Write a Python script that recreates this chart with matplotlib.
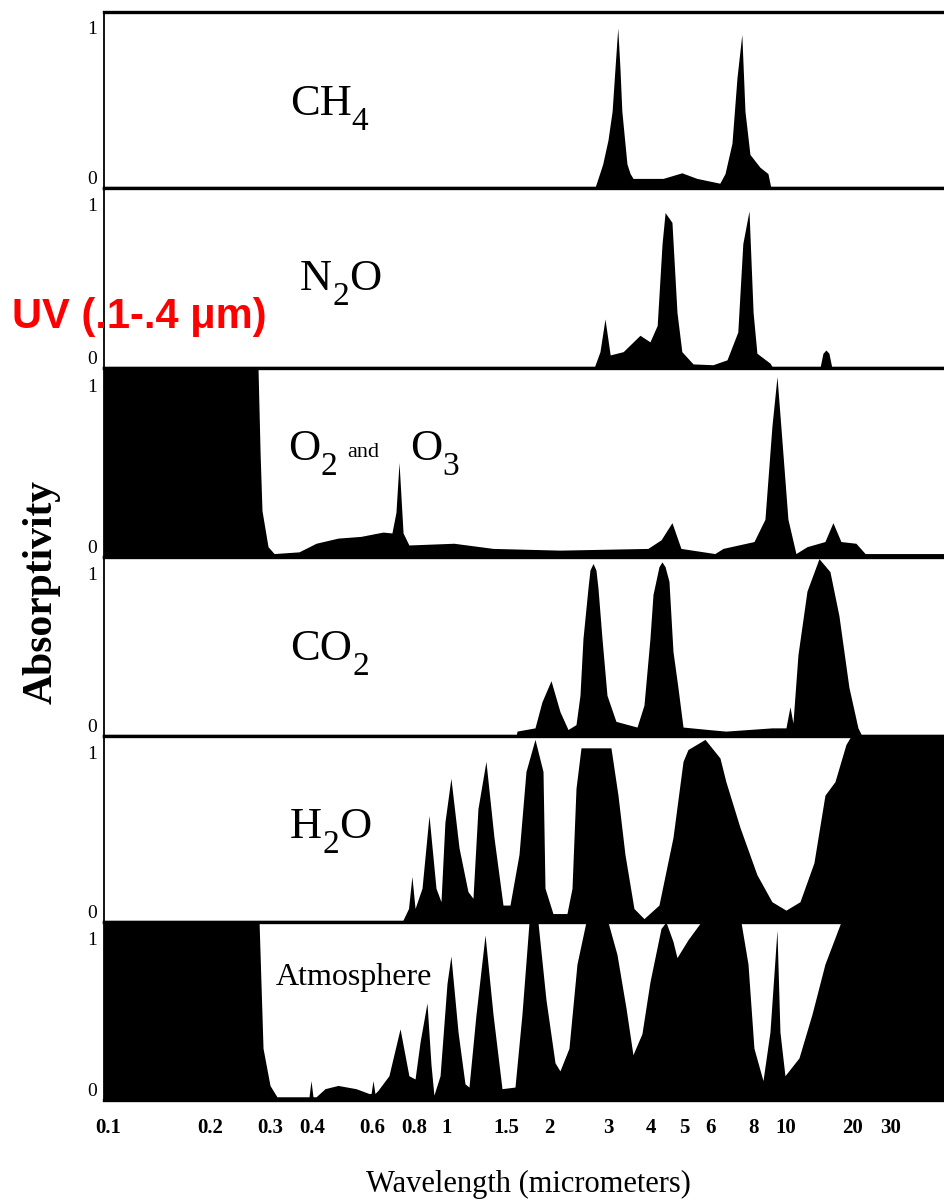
import numpy as np
import matplotlib
matplotlib.use("Agg")
import matplotlib.pyplot as plt

# 1. Fuentes (serif tipo Times para todo el grafico)
plt.rcParams['font.family'] = ['Liberation Serif', 'DejaVu Serif']

# 2. Datos: longitud de onda (micrometros) y absortividad de cada panel
#    (1.1 = banda negra que llena todo el panel)
ch4_wl = [2.73, 2.83, 2.88, 2.985, 3.07, 3.131, 3.19, 3.238, 3.28, 3.396, 3.47, 3.54,
          4.34, 4.93, 5.46, 6.38, 6.61, 6.93, 7.17, 7.41, 7.57, 7.83, 8.38, 8.85, 9.03]
ch4_val = [0, 0.10, 0.15, 0.30, 0.48, 0.75, 1.0, 0.75, 0.48, 0.15, 0.09, 0.06,
           0.06, 0.095, 0.06, 0.03, 0.09, 0.28, 0.69, 0.96, 0.48, 0.21, 0.13, 0.09, 0]

n2o_wl = [2.715, 2.827, 2.925, 3.03, 3.31, 3.71, 3.97, 4.17, 4.31, 4.40, 4.61, 4.77, 4.93,
          5.32, 6.09, 6.70, 7.21, 7.46, 7.78, 8.00, 8.21, 8.97, 9.16,
          14.27, 14.73, 15.2, 15.68, 16.18]
n2o_val = [0, 0.10, 0.30, 0.08, 0.10, 0.20, 0.16, 0.26, 0.76, 0.95, 0.89, 0.34, 0.10,
           0.025, 0.02, 0.05, 0.22, 0.76, 0.96, 0.34, 0.09, 0.03, 0,
           0, 0.09, 0.11, 0.09, 0]

o2o3_wl = [0.097, 0.277, 0.281, 0.2846, 0.2965, 0.309, 0.366, 0.411, 0.477, 0.557, 0.647,
           0.688, 0.707, 0.722, 0.742, 0.772, 1.048, 1.367, 2.154, 3.916, 4.28, 4.61,
           4.90, 6.17, 6.52, 8.05, 8.67, 9.09, 9.41, 9.66, 10.21, 11.1, 12.46, 15.04,
           16.35, 17.78, 20.8, 22.9, 53]
o2o3_val = [1.1, 1.1, 0.6, 0.27, 0.06, 0.02, 0.03, 0.08, 0.11, 0.12, 0.145,
            0.14, 0.26, 0.55, 0.14, 0.07, 0.08, 0.05, 0.04, 0.05, 0.10, 0.20,
            0.05, 0.02, 0.05, 0.09, 0.22, 0.76, 1.05, 0.76, 0.22, 0.02, 0.06, 0.09,
            0.20, 0.09, 0.08, 0.02, 0.02]

co2_wl = [1.60, 1.609, 1.818, 1.906, 2.027, 2.154, 2.275, 2.402, 2.468, 2.519, 2.606,
          2.641, 2.697, 2.751, 2.789, 2.866, 2.965, 3.151, 3.636, 3.812, 3.97, 4.053,
          4.22, 4.307, 4.40, 4.518, 4.642, 4.80, 4.97, 5.89, 6.65, 9.09, 10.0, 10.43,
          10.76, 11.34, 12.46, 14.13, 15.85, 17.41, 19.33, 21.25, 22.15]
co2_val = [0, 0.03, 0.05, 0.21, 0.34, 0.15, 0.04, 0.07, 0.25, 0.60, 0.91,
           1.02, 1.06, 1.02, 0.91, 0.60, 0.25, 0.09, 0.055, 0.19, 0.60, 0.87,
           1.04, 1.07, 1.04, 0.95, 0.52, 0.30, 0.055, 0.04, 0.03, 0.05, 0.05, 0.18,
           0.08, 0.50, 0.89, 1.09, 1.01, 0.74, 0.30, 0.05, 0]

h2o_wl = [0.737, 0.770, 0.788, 0.805, 0.844, 0.885, 0.928, 0.960, 0.986, 1.027, 1.085,
          1.153, 1.193, 1.234, 1.303, 1.376, 1.463, 1.534, 1.631, 1.710, 1.818, 1.920,
          1.946, 2.054, 2.259, 2.338, 2.402, 2.485, 3.046, 3.195, 3.35, 3.561, 3.812,
          4.22, 4.642, 4.97, 5.139, 5.77, 6.387, 6.65, 7.316, 8.21, 9.09, 10.0, 11.58,
          13.40, 15.04, 16.70, 18.74, 19.75, 53]
h2o_val = [0, 0.08, 0.27, 0.08, 0.20, 0.63, 0.20, 0.12, 0.59, 0.85, 0.44,
           0.18, 0.14, 0.67, 0.95, 0.50, 0.10, 0.10, 0.40, 0.89, 1.08, 0.89,
           0.20, 0.05, 0.05, 0.20, 0.79, 1.03, 1.03, 0.75, 0.40, 0.08, 0.02,
           0.10, 0.50, 0.95, 1.02, 1.08, 0.97, 0.83, 0.56, 0.28, 0.12, 0.07, 0.12,
           0.35, 0.75, 0.83, 1.05, 1.1, 1.1]

atm_wl = [0.097, 0.279, 0.2866, 0.3005, 0.315, 0.3917, 0.397, 0.4024, 0.411, 0.4366, 0.477,
          0.539, 0.589, 0.597, 0.605, 0.613, 0.626, 0.674, 0.727, 0.772, 0.805, 0.833,
          0.873, 0.897, 0.915, 0.954, 1.0, 1.027, 1.078, 1.130, 1.161, 1.218, 1.295,
          1.367, 1.453, 1.587, 1.664, 1.746, 1.855, 1.959, 2.083, 2.154, 2.29, 2.418,
          2.570, 2.985, 3.173, 3.373, 3.537, 3.760, 3.970, 4.279, 4.426, 4.642, 4.770,
          5.139, 5.614, 7.367, 7.728, 8.046, 8.556, 8.970, 9.408, 9.601, 9.933, 11.46,
          13.13, 15.04, 17.78, 53]
atm_val = [1.1, 1.1, 0.32, 0.09, 0.02, 0.02, 0.12, 0.02, 0.02, 0.07, 0.09,
           0.07, 0.04, 0.04, 0.12, 0.04, 0.06, 0.15, 0.44, 0.15, 0.13, 0.36,
           0.60, 0.22, 0.03, 0.15, 0.72, 0.89, 0.42, 0.10, 0.08, 0.53, 1.02,
           0.53, 0.07, 0.08, 0.53, 1.1, 1.1, 0.62, 0.23, 0.18, 0.32, 0.84,
           1.1, 1.1, 0.90, 0.57, 0.28, 0.41, 0.73, 1.06, 1.1, 0.98, 0.88,
           0.99, 1.1, 1.1, 0.84, 0.32, 0.12, 0.42, 1.05, 0.42, 0.15, 0.26,
           0.53, 0.84, 1.1, 1.1]

xtick_vals = [0.1, 0.2, 0.3, 0.4, 0.6, 0.8, 1, 1.5, 2, 3, 4, 5, 6, 8, 10, 20, 30]
xtick_labels = ['0.1', '0.2', '0.3', '0.4', '0.6', '0.8', '1', '1.5', '2', '3', '4',
                '5', '6', '8', '10', '20', '30']

panels = [(ch4_wl, ch4_val), (n2o_wl, n2o_val), (o2o3_wl, o2o3_val),
          (co2_wl, co2_val), (h2o_wl, h2o_val), (atm_wl, atm_val)]

# 3. Escala logaritmica que se comprime por encima de 10 um (como el original)
K = 220 / 339

def fwd(x):
    u = np.log10(np.clip(x, 1e-6, None))
    return np.where(u <= 1, u, 1 + (u - 1) * K)

def inv(y):
    y = np.asarray(y, dtype=float)
    return np.where(y <= 1, 10.0 ** y, 10.0 ** (1 + (y - 1) / K))

# 4. Figura y paneles apilados
W, H = 944, 1203
fig = plt.figure(figsize=(W / 100, H / 100), dpi=100)
edges = [12, 188, 368, 557, 736, 922, 1100]   # bordes de los paneles (px)

for i, (wl, val) in enumerate(panels):
    top, bot = edges[i], edges[i + 1]
    ax = fig.add_axes([104 / W, 1 - bot / H, 840 / W, (bot - top) / H])
    ax.set_xscale('function', functions=(fwd, inv))
    ax.set_xlim(0.0973, 52.3)
    ax.set_ylim(0, 1.1)
    ax.fill_between(wl, 0, val, color='black', linewidth=0)

    ax.spines['right'].set_visible(False)
    ax.spines['top'].set_linewidth(2.4)
    ax.spines['bottom'].set_linewidth(2.4)
    ax.spines['left'].set_linewidth(1.3)

    ax.set_yticks([0, 1])
    ax.set_yticklabels(['0', '1'])
    ax.tick_params(axis='y', length=0, pad=5, labelsize=14)
    ax.get_yticklabels()[0].set_verticalalignment('bottom')

    if i == len(panels) - 1:
        ax.set_xticks(xtick_vals)
        ax.set_xticklabels(xtick_labels, fontweight='bold')
        ax.tick_params(axis='x', length=0, pad=13, labelsize=15)
    else:
        ax.set_xticks([])
    ax.minorticks_off()

# 5. Etiquetas de cada gas (subindices grandes y bajos, como el original)
renderer = fig.canvas.get_renderer()

def chem(x, y, parts, size=32):
    # parts: lista de (texto, es_subindice); x, y en pixeles (linea base)
    for s, sub in parts:
        yy = y + 15 if sub else y
        t = fig.text(x / W, 1 - yy / H, s, va='baseline',
                     fontsize=size * 0.75 if sub else size)
        x = t.get_window_extent(renderer).x1

chem(290, 115, [('CH', False), ('4', True)])
chem(300, 290, [('N', False), ('2', True), ('O', False)])
chem(288, 460, [('O', False), ('2', True)])
fig.text(347 / W, 1 - 457 / H, 'and', va='baseline', fontsize=16)
chem(410, 460, [('O', False), ('3', True)])
chem(290, 660, [('CO', False), ('2', True)])
chem(290, 838, [('H', False), ('2', True), ('O', False)])
fig.text(276 / W, 1 - 985 / H, 'Atmosphere', va='baseline', fontsize=23)

# 6. Titulos de ejes y nota UV
fig.text(528 / W, 1 - 1192 / H, 'Wavelength (micrometers)', ha='center',
         va='baseline', fontsize=22)
fig.text(42 / W, 1 - 592 / H, 'Absorptivity', rotation=90, ha='center',
         va='center', fontsize=30, fontweight='bold')
fig.text(12 / W, 1 - 328 / H, 'UV (.1-.4 \u03bcm)', color='red', fontweight='bold',
         fontsize=30, family=['Liberation Sans', 'DejaVu Sans'], va='baseline')

fig.savefig('out.png', dpi=100)
